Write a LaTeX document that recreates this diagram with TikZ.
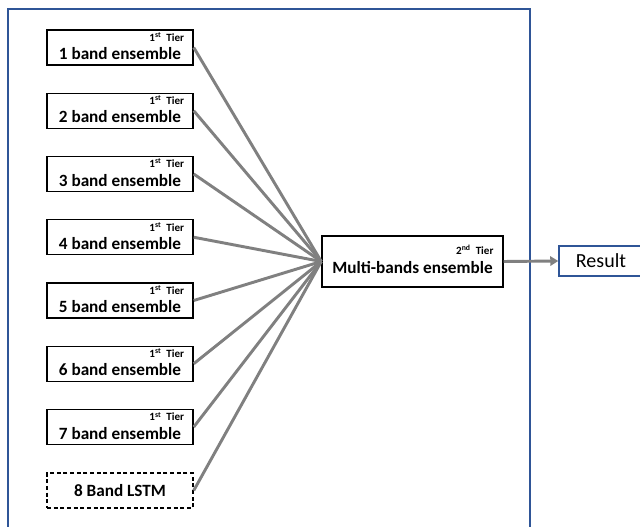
\documentclass[tikz,border=0pt]{standalone}
\usepackage{fontspec}
\setmainfont{Carlito}
\usetikzlibrary{arrows.meta}
\definecolor{frameblue}{HTML}{2F5597}
\definecolor{linkgray}{HTML}{808080}
\begin{document}
\begin{tikzpicture}[x=0.75pt,y=-0.75pt,
  bandbox/.style={draw=black, line width=1.1pt, fill=white, inner sep=0pt,
    minimum width=109.5pt, minimum height=26.25pt},
  lstmbox/.style={bandbox, dashed, dash pattern=on 3pt off 2pt},
  multibox/.style={draw=black, line width=1.1pt, fill=white, inner sep=0pt,
    minimum width=135.75pt, minimum height=38.25pt},
  resultbox/.style={draw=frameblue, line width=1.1pt, fill=white, inner sep=0pt,
    minimum width=63pt, minimum height=22.5pt,
    font=\fontsize{15}{18}\selectfont},
  tiertext/.style={inner sep=0pt, font=\fontsize{8.3}{10}\selectfont\bfseries},
  maintext/.style={inner sep=0pt, font=\fontsize{12.9}{15}\selectfont\bfseries},
  link/.style={draw=linkgray, line width=2.2pt},
  linkarrow/.style={link, -{Triangle[length=6pt,width=7pt]}}
]
\useasboundingbox (0,0) rectangle (640,527);

% outer frame around the ensemble stage
\draw[frameblue, line width=1.2pt] (8,9) rectangle (530,545);

% first-tier band ensembles
\foreach \i in {1,...,7}{
  \node[bandbox] (b\i) at (120,{47.5+63.25*(\i-1)}) {};
  \node[tiertext, anchor=base east] (t\i) at ([xshift=-7pt,yshift=-9pt]b\i.north east)
    {1\textsuperscript{st}\ \ Tier};
  \node[maintext, anchor=base] (m\i) at ([yshift=4.6pt]b\i.south) {\i{} band ensemble};
}

% LSTM branch
\node[lstmbox] (b8) at (120,490.5) {};
\node[maintext] (m8) at (b8.center) {8 Band LSTM};

% second tier
\node[multibox] (multi) at (412.5,261.5) {};
\node[tiertext, anchor=base east] (tm) at ([xshift=-7.5pt,yshift=-14.25pt]multi.north east)
  {2\textsuperscript{nd}\ \ Tier};
\node[maintext, anchor=base] (mm) at ([yshift=11pt]multi.south) {Multi-bands ensemble};

% output
\node[resultbox] (result) at (601,261) {Result};

% connectors
\foreach \i in {1,...,8}{
  \draw[link] (b\i.east) -- (multi.west);
}
\draw[linkarrow] (multi.east) -- (result.west);
\end{tikzpicture}
\end{document}
